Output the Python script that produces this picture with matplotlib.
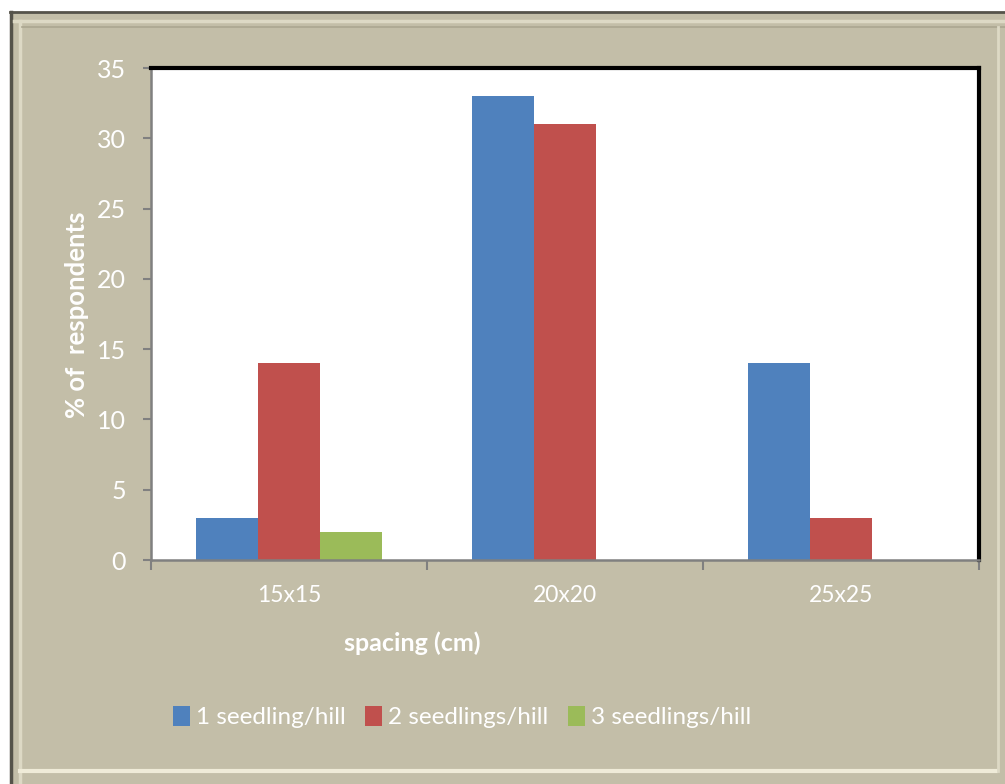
import numpy as np
import matplotlib.pyplot as plt
from matplotlib.patches import Rectangle
from matplotlib.lines import Line2D

categories = ["15x15", "20x20", "25x25"]
series_names = ["1 seedling/hill", "2 seedlings/hill", "3 seedlings/hill"]
one_seedling = [3, 33, 14]
two_seedlings = [14, 31, 3]
three_seedlings = [2, 0, 0]
colors = ["#4F81BD", "#C0504D", "#9BBB59"]

plt.rcParams['font.family'] = ['Lato', 'DejaVu Sans']

W, H = 1005, 784
bg = "#C3BEA8"
fig = plt.figure(figsize=(W / 100, H / 100), dpi=100, facecolor=bg)

# white margin on top / left, then the bevel lines of the frame
fig.patches.append(Rectangle((0, 1 - 12 / H), 1, 12 / H, transform=fig.transFigure,
                             facecolor="white", edgecolor="none", zorder=-5))
fig.patches.append(Rectangle((0, 0), 10 / W, 1, transform=fig.transFigure,
                             facecolor="white", edgecolor="none", zorder=-5))
frame_lines = [
    ([10, 1005], [12, 12], "#55534A", 2),
    ([11, 11], [12, 784], "#55534A", 2.5),
    ([14, 1005], [21, 21], "#DDD9C5", 2.5),
    ([20, 20], [21, 784], "#DDD9C5", 2.5),
    ([22, 1005], [27, 27], "#ABA690", 1.2),
    ([20, 996], [771, 771], "#EFEBD8", 3),
    ([998, 998], [27, 771], "#DDD9C5", 2),
]
for xs, ys, c, lw in frame_lines:
    fig.lines.append(Line2D([v / W for v in xs], [1 - v / H for v in ys],
                            transform=fig.transFigure, color=c, lw=lw, zorder=-4))

ax = fig.add_axes([151 / W, 1 - 560 / H, (979 - 151) / W, (560 - 68) / H])
ax.set_facecolor("white")

x = np.arange(len(categories))
w = 0.225
for i, (vals, name) in enumerate(zip([one_seedling, two_seedlings, three_seedlings], series_names)):
    ax.bar(x + (i - 1) * w, vals, width=w, color=colors[i], label=name, zorder=2)

ax.set_xlim(-0.5, 2.5)
ax.set_ylim(0, 35)
ax.set_yticks(np.arange(0, 36, 5))
ax.set_xticks(x)
ax.set_xticklabels(categories)
ax.set_xticks([-0.5, 0.5, 1.5, 2.5], minor=True)
ax.tick_params(axis="x", which="major", length=0, pad=18, labelsize=16.5, labelcolor="white")
ax.tick_params(axis="x", which="minor", length=7, width=1.5, color="#808080", direction="out")
ax.tick_params(axis="y", length=6, width=1.5, color="#808080", labelsize=18, labelcolor="white", pad=12)

for s in ["left", "bottom"]:
    ax.spines[s].set_color("#808080")
    ax.spines[s].set_linewidth(1.8)
for s in ["top", "right"]:
    ax.spines[s].set_color("black")
    ax.spines[s].set_linewidth(3)

fig.text(77 / W, 1 - 315 / H, "% of  respondents", rotation=90, ha="center", va="center",
         color="white", fontsize=18.5, fontweight="bold")
fig.text(412 / W, 1 - 643 / H, "spacing (cm)", ha="center", va="center",
         color="white", fontsize=18, fontweight="bold")

leg = fig.legend(loc="center", bbox_to_anchor=(462 / W, 1 - 717 / H), ncol=3, frameon=False,
                 fontsize=17.5, handlelength=0.7, handleheight=0.9, handletextpad=0.25,
                 columnspacing=0.8)
for t in leg.get_texts():
    t.set_color("white")

fig.savefig("out.png", dpi=100, facecolor=fig.get_facecolor())
